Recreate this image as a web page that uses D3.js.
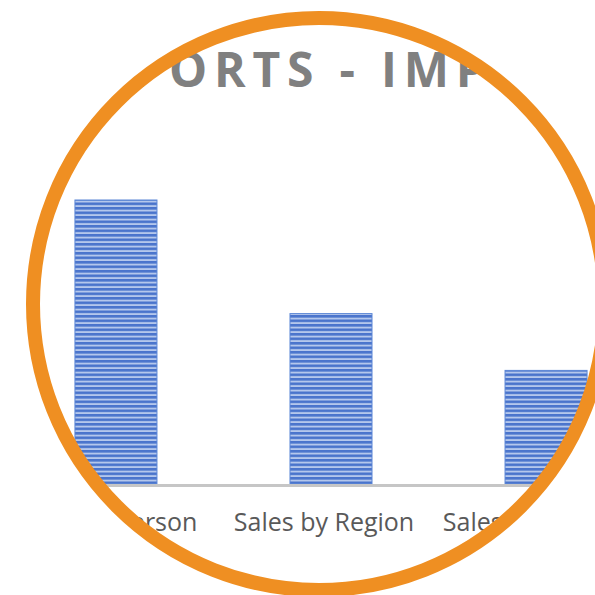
<!DOCTYPE html>
<html><head><meta charset="utf-8">
<script src="https://cdn.jsdelivr.net/npm/d3@7"></script>
<style>html,body{margin:0;padding:0;background:#fff;}svg{display:block;}</style>
</head><body>
<svg id="c" width="595" height="595"></svg>
<script>
const title = "REPORTS - IMPORT";
const categories = ["By Salesperson", "Sales by Region", "Sales by Product"];
const values = [25, 15, 10];

const W = 595, H = 595;
const svg = d3.select("#c");
const defs = svg.append("defs");

const cx = 319, cy = 304, R = 286;

defs.append("clipPath").attr("id", "circ")
  .append("circle").attr("cx", cx).attr("cy", cy).attr("r", R);

const pat = defs.append("pattern").attr("id", "stripes")
  .attr("patternUnits", "userSpaceOnUse").attr("width", 10).attr("height", 4.5);
pat.append("rect").attr("width", 10).attr("height", 4.5).attr("fill", "#b4c7ec");
pat.append("rect").attr("y", 0).attr("width", 10).attr("height", 2.6).attr("fill", "#4a74cc");

const g = svg.append("g").attr("clip-path", "url(#circ)");

const x = d3.scaleBand().domain(categories).range([8.5, 653.5]).paddingInner(0.6186).paddingOuter(0.309);
const y = d3.scaleLinear().domain([0, 25]).range([484, 200]);

// title: fit so that "O" (index 3) starts near x=169 and "I" (index 10) near x=381
const t = g.append("text").attr("x", 0).attr("y", 87)
  .attr("font-family", "Open Sans").attr("font-weight", 700).attr("font-size", 48)
  .attr("fill", "#808080").text(title);
const tn = t.node();
const d0 = tn.getStartPositionOfChar(10).x - tn.getStartPositionOfChar(3).x;
const ls = (381 - 169 - d0) / 7;
t.attr("letter-spacing", ls);
const p3 = tn.getStartPositionOfChar(3).x;
t.attr("x", 169 - p3);

g.selectAll("rect.bar").data(values).join("rect").attr("class", "bar")
  .attr("x", (d, i) => x(categories[i]))
  .attr("y", d => y(d))
  .attr("width", x.bandwidth())
  .attr("height", d => y(0) - y(d))
  .attr("fill", "url(#stripes)")
  .attr("stroke", "#5b86d6").attr("stroke-width", 1);

const axis = d3.axisBottom(x).tickSize(0);
const ag = g.append("g").attr("transform", `translate(0,${y(0) + 1})`).call(axis);
ag.select(".domain").attr("stroke", "#c6c6c6").attr("stroke-width", 3);
ag.selectAll(".tick text").attr("font-family", "Open Sans").attr("font-size", 25)
  .attr("fill", "#595959").attr("dx", -7).attr("y", 46).attr("dy", 0);

svg.append("circle").attr("cx", cx).attr("cy", cy).attr("r", R)
  .attr("fill", "none").attr("stroke", "#ef8f22").attr("stroke-width", 14);
</script>
</body></html>
